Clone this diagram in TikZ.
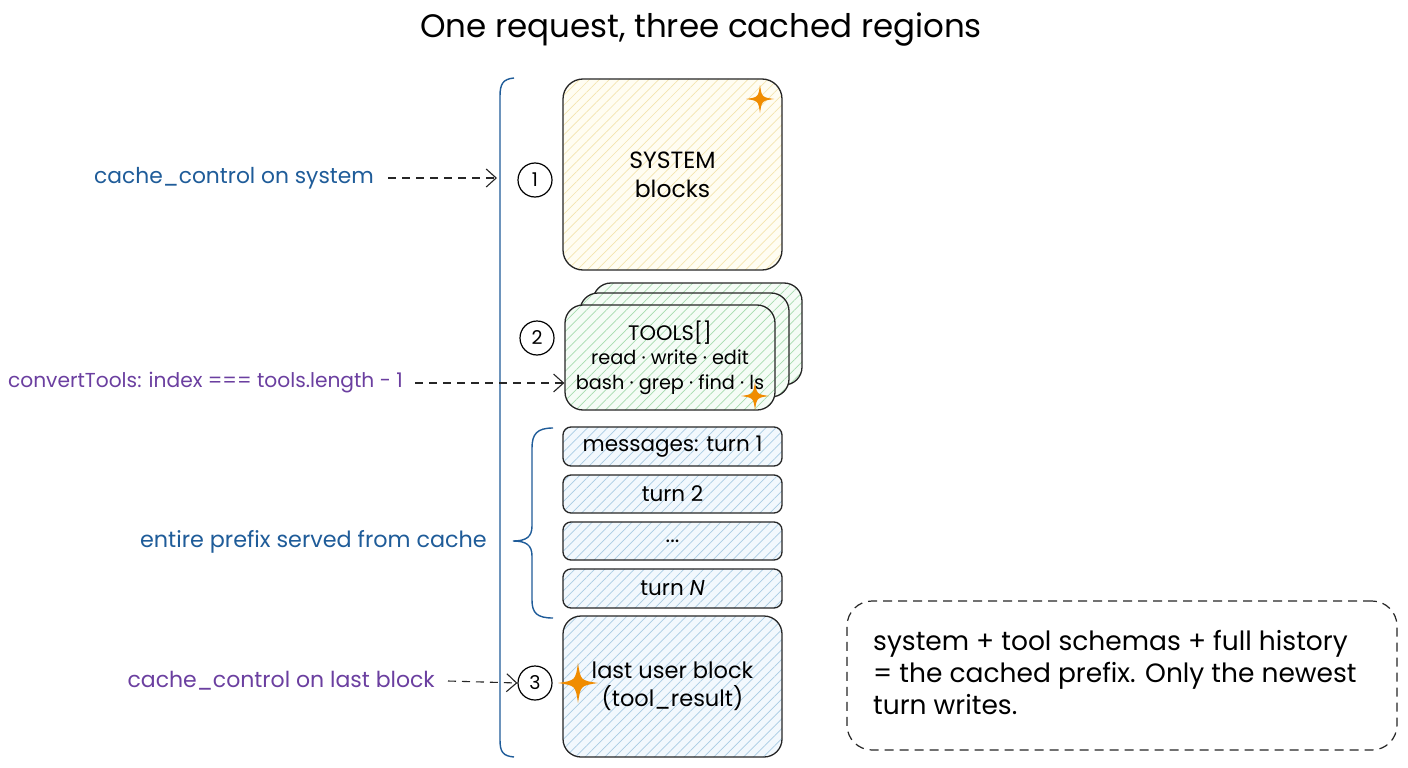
\documentclass[tikz,border=0pt]{standalone}
\usepackage{fontspec}
\setmainfont{Poppins}
\usetikzlibrary{arrows.meta,patterns.meta}
\definecolor{cblue}{HTML}{1F5C99}
\definecolor{cpurple}{HTML}{6B3FA0}
\definecolor{corange}{HTML}{F08C00}
\definecolor{yfill}{HTML}{FFFDF2}
\definecolor{yhatch}{HTML}{F3E4AE}
\definecolor{gfill}{HTML}{F5FCF6}
\definecolor{ghatch}{HTML}{A6DBAE}
\definecolor{bfill}{HTML}{F2F8FD}
\definecolor{bhatch}{HTML}{A9CBE3}
\newcommand\fsz[2]{\fontsize{#1}{#2}\selectfont}
\tikzset{
  box/.style={draw=black!85, line width=1.3pt, rounded corners=#1, inner sep=0pt, align=center, font=\fsz{21.5}{28}},
  yhat/.style={preaction={fill=yfill}, pattern={Lines[angle=45,distance=7pt,line width=0.7pt]}, pattern color=yhatch},
  ghat/.style={preaction={fill=gfill}, pattern={Lines[angle=45,distance=7pt,line width=0.7pt]}, pattern color=ghatch},
  bhat/.style={preaction={fill=bfill}, pattern={Lines[angle=45,distance=7pt,line width=0.7pt]}, pattern color=bhatch},
  num/.style={draw=black, line width=1.2pt, circle, minimum size=34pt, inner sep=0pt, font=\fsz{19}{20}},
  lbl/.style={font=\fsz{21.8}{24}, inner sep=0pt},
  darrow/.style={draw=black!85, line width=1.1pt, dash pattern=on 8pt off 6pt, -{Straight Barb[length=10pt,width=18pt,line width=1.1pt]}},
  spark/.pic={\fill[corange] (0,1) .. controls (0.13,0.13) .. (1,0) .. controls (0.13,-0.13) .. (0,-1) .. controls (-0.13,-0.13) .. (-1,0) .. controls (-0.13,0.13) .. (0,1) -- cycle;}
}
\begin{document}
\begin{tikzpicture}[x=1pt,y=-1pt]
\useasboundingbox (0,0) rectangle (1408,768);
\fill[white] (0,0) rectangle (1408,768);
% title
\node[font=\fsz{32.5}{36}] (title) at (701,30) {One request, three cached regions};
% big bracket
\draw[cblue, line width=1.4pt] (514,78) .. controls (503,79) and (500,84) .. (500,96) -- (500,740) .. controls (500,752) and (503,756) .. (514,757);
% system
\node[box=20pt, yhat, minimum width=219pt, minimum height=191pt, font=\fsz{23.5}{29}] (sys) at (672.5,174.5) {SYSTEM\\blocks};
\pic[scale=14] at (760,99) {spark};
\node[num] (n1) at (535,180) {1};
% tools stack
\node[box=18pt, ghat, minimum width=209pt, minimum height=102pt] (t3) at (697.5,334) {};
\node[box=18pt, ghat, minimum width=209pt, minimum height=104pt] (t2) at (684.5,345) {};
\node[box=18pt, ghat, minimum width=210pt, minimum height=105pt, font=\fsz{19.3}{24.5}] (tools) at (670,357.5) {\fsz{21}{24.5}TOOLS[]\\read · write · edit\\bash · grep · find · ls};
\pic[scale=14] at (755,396) {spark};
\node[num] (n2) at (537,338) {2};
% messages
\node[box=8pt, bhat, minimum width=219pt, minimum height=39pt] (m1) at (672.5,446.5) {messages: turn 1};
\node[box=8pt, bhat, minimum width=219pt, minimum height=38pt] (m2) at (672.5,494) {turn 2};
\node[box=8pt, bhat, minimum width=219pt, minimum height=38pt] (m3) at (672.5,541) {...};
\node[box=8pt, bhat, minimum width=219pt, minimum height=39pt] (mn) at (672.5,588.5) {turn \textit{N}};
% inner brace
\draw[cblue, line width=1.4pt] (553,428) .. controls (537,428) and (532,434) .. (532,448) -- (532,526) .. controls (532,537) and (526,541) .. (513,541) .. controls (526,541) and (532,545) .. (532,556) -- (532,600) .. controls (532,613) and (537,618) .. (553,618);
% last block
\node[box=18pt, bhat, minimum width=219pt, minimum height=141pt, font=\fsz{22.5}{28}] (last) at (672.5,686.5) {last user block\\(tool\_result)};
\pic[scale=20] at (578,683) {spark};
\node[num] (n3) at (535,683) {3};
% labels and arrows
\node[lbl, text=cblue, anchor=east] (l1) at (374,178) {cache\_control on system};
\coordinate (b1) at (497,178);
\draw[darrow] (l1.east) ++(14,0) coordinate (a1) (a1) -- (b1);
\node[lbl, text=cpurple, anchor=east, font=\fsz{20.2}{24}] (l2) at (403,383) {convertTools: index === tools.length - 1};
\draw[darrow] (l2.east) ++(12,0) coordinate (a2) (a2) -- (tools.west |- l2.east);
\node[lbl, text=cblue, anchor=east, font=\fsz{22.3}{24}] (l3) at (487,542) {entire prefix served from cache};
\node[lbl, text=cpurple, anchor=east, font=\fsz{22}{24}] (l4) at (435,681) {cache\_control on last block};
\draw[darrow] (l4.east) ++(13,0) coordinate (a4) (a4) -- (n3.west);
% note
\node[draw=black!85, line width=1.2pt, dash pattern=on 9pt off 6pt, rounded corners=25pt, minimum width=550pt, minimum height=149pt] (note) at (1122,675.5) {};
\node[anchor=west, align=left, font=\fsz{26.5}{32}, inner sep=0pt] (notetxt) at (873,672) {system + tool schemas + full history\\= the cached prefix. Only the newest\\turn writes.};
\end{tikzpicture}
\end{document}
